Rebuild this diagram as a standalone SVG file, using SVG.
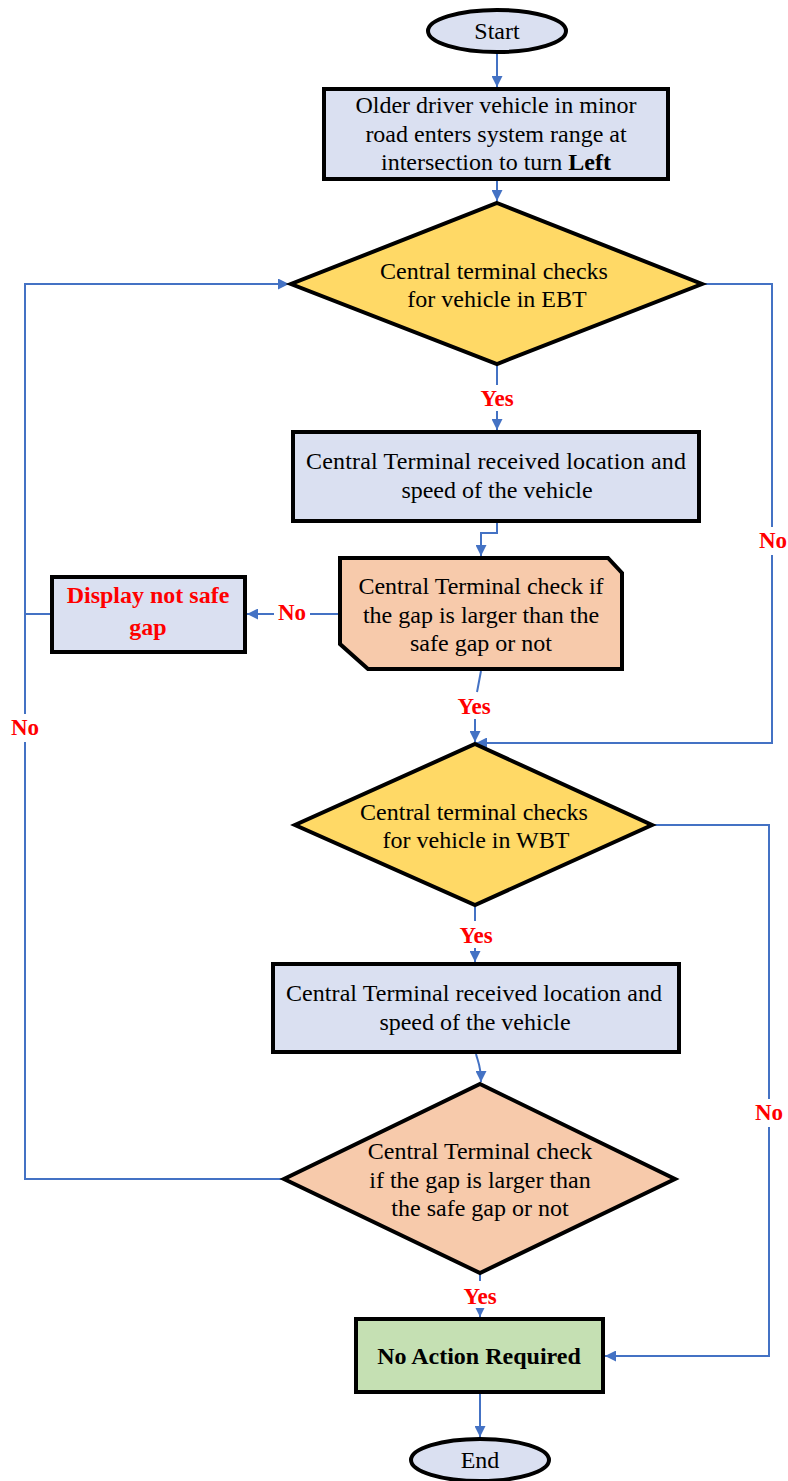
<svg xmlns="http://www.w3.org/2000/svg" width="788" height="1481" viewBox="0 0 788 1481" font-family="Liberation Serif, Times New Roman, serif">
  <defs>
    <marker id="arrow" viewBox="0 0 10 10" refX="10" refY="5" markerWidth="5.5" markerHeight="5.5" orient="auto" markerUnits="strokeWidth">
      <path d="M0,0 L10,5 L0,10 z" fill="#4472c4"/>
    </marker>
    <style>
      .node { stroke: #000; stroke-width: 4; }
      .blue { fill: #dae0f1; }
      .yellow { fill: #ffd966; }
      .peach { fill: #f7caab; }
      .green { fill: #c5e0b3; }
      .t { font-size: 24px; fill: #000; text-anchor: middle; }
      .b { font-weight: bold; }
      .red { fill: #ff0000; font-weight: bold; }
      .lbl { font-size: 23px; font-weight: bold; fill: #ff0000; text-anchor: middle; }
      .conn { fill: none; stroke: #4472c4; stroke-width: 2; }
    </style>
  </defs>
  <rect width="788" height="1481" fill="#fff"/>

  <!-- connectors -->
  <g id="connectors">
    <path class="conn" d="M497,53 L497,87" marker-end="url(#arrow)"/>
    <path class="conn" d="M497,181 L497,201" marker-end="url(#arrow)"/>
    <path class="conn" d="M497,365 L497,385"/>
    <path class="conn" d="M497,411 L497,430" marker-end="url(#arrow)"/>
    <path class="conn" d="M497,523 L497,533 L481,533 L481,556" marker-end="url(#arrow)"/>
    <path class="conn" d="M339,614 L310,614"/>
    <path class="conn" d="M274,614 L247,614" marker-end="url(#arrow)"/>
    <path class="conn" d="M481,671 L477,692"/>
    <path class="conn" d="M475,719 L475,742" marker-end="url(#arrow)"/>
    <path class="conn" d="M703,284 L772,284 L772,527"/>
    <path class="conn" d="M772,555 L772,743 L476,743" marker-end="url(#arrow)"/>
    <path class="conn" d="M51,614 L25,614"/>
    <path class="conn" d="M283,1179 L25,1179 L25,742"/>
    <path class="conn" d="M25,714 L25,284 L289,284" marker-end="url(#arrow)"/>
    <path class="conn" d="M475,907 L475,921"/>
    <path class="conn" d="M475,948 L475,962" marker-end="url(#arrow)"/>
    <path class="conn" d="M653,825 L769,825 L769,1099"/>
    <path class="conn" d="M769,1127 L769,1356 L605,1356" marker-end="url(#arrow)"/>
    <path class="conn" d="M476,1054 C478,1062 481,1066 481,1082" marker-end="url(#arrow)"/>
    <path class="conn" d="M480,1274 L480,1281"/>
    <path class="conn" d="M480,1309 L480,1317" marker-end="url(#arrow)"/>
    <path class="conn" d="M480,1394 L480,1437" marker-end="url(#arrow)"/>
  </g>

  <!-- branch labels -->
  <g id="labels">
    <text class="lbl" x="497" y="406">Yes</text>
    <text class="lbl" x="292" y="620">No</text>
    <text class="lbl" x="474" y="714">Yes</text>
    <text class="lbl" x="773" y="548">No</text>
    <text class="lbl" x="25" y="735">No</text>
    <text class="lbl" x="476" y="943">Yes</text>
    <text class="lbl" x="769" y="1120">No</text>
    <rect x="456" y="1282" width="48" height="26" fill="#fff"/>
    <text class="lbl" x="480" y="1304">Yes</text>
  </g>

  <g id="start">
    <ellipse class="node blue" cx="497" cy="31" rx="69" ry="21"/>
    <text class="t" x="497" y="39">Start</text>
  </g>

  <g id="enter-range">
    <rect class="node blue" x="324" y="89" width="344" height="90"/>
    <text class="t" x="496" y="113">Older driver vehicle in minor</text>
    <text class="t" x="496" y="142">road enters system range at</text>
    <text class="t" x="496" y="170">intersection to turn <tspan class="b">Left</tspan></text>
  </g>

  <g id="check-ebt">
    <polygon class="node yellow" points="497,203 702,284 497,364 291,284"/>
    <text class="t" x="494" y="279">Central terminal checks</text>
    <text class="t" x="497" y="307">for vehicle in EBT</text>
  </g>

  <g id="receive-ebt">
    <rect class="node blue" x="293" y="432" width="406" height="89"/>
    <text class="t" x="306" y="469" textLength="380" lengthAdjust="spacing" style="text-anchor:start">Central Terminal received location and</text>
    <text class="t" x="497" y="498">speed of the vehicle</text>
  </g>

  <g id="gap-check-ebt">
    <polygon class="node peach" points="340,558 608,558 622,573 622,669 368,669 340,644"/>
    <text class="t" x="481" y="594">Central Terminal check if</text>
    <text class="t" x="481" y="623">the gap is larger than the</text>
    <text class="t" x="481" y="651">safe gap or not</text>
  </g>

  <g id="display-unsafe">
    <rect class="node blue" x="52" y="577" width="193" height="75"/>
    <text class="t red" x="148" y="603">Display not safe</text>
    <text class="t red" x="148" y="635">gap</text>
  </g>

  <g id="check-wbt">
    <polygon class="node yellow" points="475,744 652,825 475,905 295,825"/>
    <text class="t" x="474" y="820">Central terminal checks</text>
    <text class="t" x="476" y="848">for vehicle in WBT</text>
  </g>

  <g id="receive-wbt">
    <rect class="node blue" x="273" y="964" width="406" height="88"/>
    <text class="t" x="286" y="1001" textLength="376" lengthAdjust="spacing" style="text-anchor:start">Central Terminal received location and</text>
    <text class="t" x="475" y="1030">speed of the vehicle</text>
  </g>

  <g id="gap-check-wbt">
    <polygon class="node peach" points="480,1084 675,1179 480,1273 284,1179"/>
    <text class="t" x="480" y="1159">Central Terminal check</text>
    <text class="t" x="480" y="1188">if the gap is larger than</text>
    <text class="t" x="480" y="1216">the safe gap or not</text>
  </g>

  <g id="no-action">
    <rect class="node green" x="356" y="1319" width="247" height="73"/>
    <text class="t b" x="479" y="1364">No Action Required</text>
  </g>

  <g id="end">
    <ellipse class="node blue" cx="480" cy="1460" rx="69" ry="21"/>
    <text class="t" x="480" y="1468">End</text>
  </g>
</svg>
